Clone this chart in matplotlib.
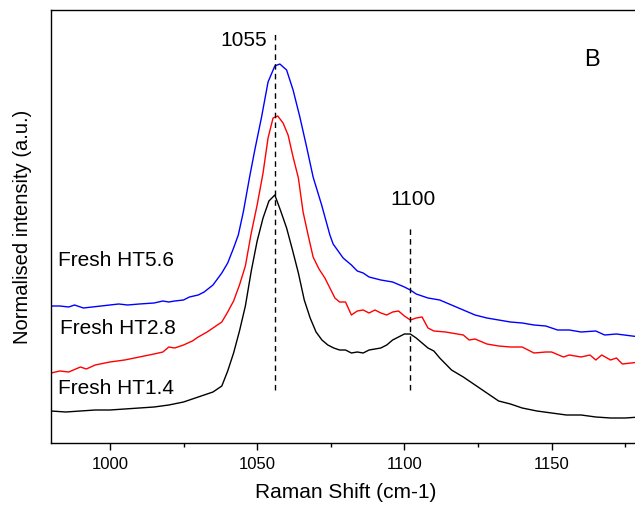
import matplotlib
matplotlib.use("Agg")
import matplotlib.pyplot as plt
from matplotlib.ticker import MultipleLocator

plt.rcParams['font.family'] = ['Liberation Sans', 'DejaVu Sans']

x_black = [980, 985, 990, 995, 1000, 1005, 1010, 1015, 1020, 1025, 1030, 1035, 1038, 1040, 1042, 1044,
           1046, 1048, 1050, 1052, 1054, 1056, 1058, 1060, 1062, 1064, 1066, 1068, 1070, 1072,
           1074, 1076, 1078, 1080, 1082, 1084, 1086, 1088, 1090, 1092, 1094, 1096, 1098, 1100, 1102,
           1104, 1106, 1108, 1110, 1112, 1114, 1116, 1120, 1124, 1128, 1132, 1136, 1140, 1145, 1150,
           1155, 1160, 1165, 1170, 1175, 1180]
y_black = [0.32, 0.31, 0.32, 0.33, 0.33, 0.34, 0.35, 0.36, 0.38, 0.41, 0.46, 0.51, 0.57, 0.72, 0.90, 1.12,
           1.37, 1.72, 2.02, 2.25, 2.42, 2.48, 2.32, 2.15, 1.93, 1.70, 1.43, 1.25, 1.11, 1.03,
           0.98, 0.95, 0.93, 0.93, 0.90, 0.91, 0.90, 0.93, 0.94, 0.95, 0.98, 1.03, 1.06, 1.09, 1.09,
           1.05, 1.00, 0.95, 0.92, 0.85, 0.79, 0.73, 0.66, 0.58, 0.50, 0.42, 0.39, 0.35, 0.32, 0.30,
           0.28, 0.28, 0.26, 0.25, 0.25, 0.26]

x_red = [980, 983, 986, 990, 992, 995, 1000, 1005, 1010, 1015, 1018, 1020, 1022, 1025, 1028, 1030,
         1033, 1036, 1038, 1040, 1042, 1044, 1046, 1048, 1050, 1052, 1053.7, 1055.4, 1057, 1058.8, 1060.5,
         1062.2, 1064, 1065.6, 1067.3, 1069, 1071, 1073, 1076.4, 1078, 1080, 1082, 1084, 1086, 1088, 1090, 1092,
         1094, 1096, 1098, 1100, 1102, 1104, 1106, 1108, 1110, 1114, 1118, 1120, 1122, 1124, 1128,
         1132, 1136, 1140, 1144, 1148, 1150, 1154, 1156, 1160, 1163, 1165, 1167, 1170, 1172, 1174, 1180]
y_red = [0.70, 0.72, 0.71, 0.76, 0.74, 0.78, 0.81, 0.83, 0.86, 0.89, 0.91, 0.96, 0.95, 0.98, 1.02, 1.06,
         1.11, 1.17, 1.21, 1.31, 1.42, 1.58, 1.77, 2.10, 2.38, 2.70, 3.05, 3.25, 3.27, 3.20, 3.08,
         2.86, 2.65, 2.31, 2.08, 1.86, 1.74, 1.65, 1.45, 1.41, 1.41, 1.28, 1.32, 1.33, 1.30, 1.33, 1.30,
         1.28, 1.31, 1.32, 1.27, 1.23, 1.25, 1.26, 1.15, 1.12, 1.11, 1.09, 1.08, 1.03, 1.04, 0.99,
         0.97, 0.96, 0.96, 0.90, 0.91, 0.91, 0.86, 0.88, 0.86, 0.88, 0.83, 0.88, 0.83, 0.85, 0.79, 0.81]

x_blue = [980, 983, 986, 988, 991, 994, 997, 1000, 1003, 1006, 1010, 1015, 1018, 1020, 1022, 1025,
          1027, 1030, 1032, 1035, 1038, 1040, 1042, 1043.6, 1045.3, 1047.5, 1049.2, 1051.5, 1053.7, 1056, 1057.7,
          1060, 1062.2, 1064.5, 1066.8, 1069, 1071.9, 1074.7, 1075.8, 1079.2, 1082, 1084, 1086, 1088,
          1092, 1096, 1100, 1102, 1104, 1108, 1112, 1116, 1120, 1124, 1128, 1132, 1136, 1140, 1144,
          1148, 1152, 1156, 1160, 1165, 1168, 1172, 1180]
y_blue = [1.37, 1.37, 1.36, 1.38, 1.35, 1.36, 1.37, 1.38, 1.39, 1.38, 1.39, 1.40, 1.42, 1.41, 1.42, 1.43,
          1.46, 1.48, 1.51, 1.58, 1.70, 1.80, 1.95, 2.08, 2.31, 2.67, 2.93, 3.26, 3.61, 3.77, 3.79,
          3.73, 3.53, 3.26, 2.96, 2.66, 2.38, 2.08, 1.99, 1.85, 1.78, 1.72, 1.70, 1.66,
          1.63, 1.61, 1.56, 1.53, 1.49, 1.45, 1.43, 1.38, 1.33, 1.28, 1.25, 1.23, 1.21, 1.20, 1.18,
          1.17, 1.13, 1.13, 1.11, 1.12, 1.08, 1.09, 1.06]

series_labels = ["Fresh HT1.4", "Fresh HT2.8", "Fresh HT5.6"]
peak_positions = [1056, 1102]
peak_labels = ["1055", "1100"]
x_ticks = [1000, 1050, 1100, 1150]

fig = plt.figure(figsize=(6.35, 5.16), dpi=100)
ax = fig.add_axes([51/635, 73/516, 589/635, 433/516])

ax.plot(x_black, y_black, color='black', lw=1.0)
ax.plot(x_red, y_red, color='red', lw=1.0)
ax.plot(x_blue, y_blue, color='blue', lw=1.0)

# dashed peak markers
ax.plot([peak_positions[0]] * 2, [0.53, 4.10], color='black', lw=1.0, ls=(0, (4, 3)))
ax.plot([peak_positions[1]] * 2, [0.53, 2.18], color='black', lw=1.0, ls=(0, (4, 3)))

ax.text(1053.3, 4.02, peak_labels[0], fontsize=15, ha='right', va='center')
ax.text(1102.8, 2.43, peak_labels[1], fontsize=15, ha='center', va='center')
ax.text(1163.6, 3.83, "B", fontsize=17, ha='center', va='center')

ax.text(982.4, 1.83, series_labels[2], fontsize=15, ha='left', va='center')
ax.text(983.0, 1.14, series_labels[1], fontsize=15, ha='left', va='center')
ax.text(982.4, 0.54, series_labels[0], fontsize=15, ha='left', va='center')

ax.set_xlim(980, 1180)
ax.set_ylim(0, 4.33)
ax.set_xticks(x_ticks)
ax.xaxis.set_minor_locator(MultipleLocator(25))
ax.tick_params(axis='x', which='major', direction='out', length=5, width=1, labelsize=12, pad=5)
ax.tick_params(axis='x', which='minor', direction='out', length=3, width=1)
ax.set_yticks([])
ax.spines['right'].set_visible(False)
for s in ['left', 'top', 'bottom']:
    ax.spines[s].set_linewidth(1.0)

ax.set_xlabel("Raman Shift (cm-1)", fontsize=15, labelpad=8)
ax.set_ylabel("Normalised intensity (a.u.)", fontsize=14.5, labelpad=14)

fig.savefig("out.png", dpi=100)
